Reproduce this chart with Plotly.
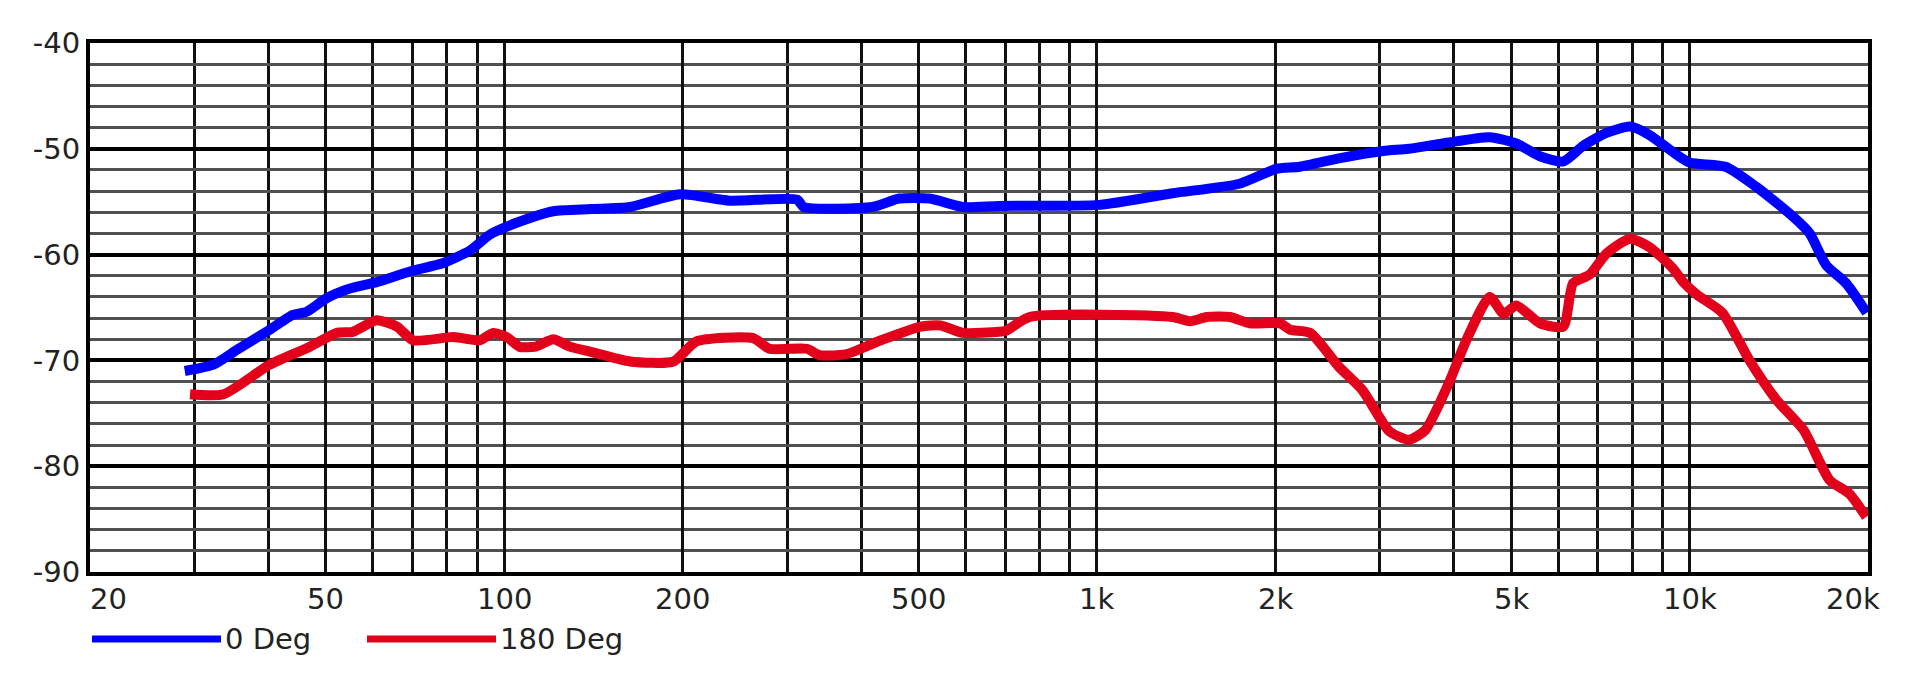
import math
import plotly.graph_objects as go

# ---- data ----
freq_0deg = [28.9, 32.3, 35.4, 39.7, 44.0, 46.4, 50.2, 54.9, 60.9, 69.3, 78.9, 87.6, 94.6,
             106, 121, 140, 163, 198, 240, 312, 320, 418, 464, 522, 594, 684, 1010, 1342,
             1740, 2006, 2200, 2560, 3040, 3360, 3920, 4600, 5100, 5590, 6120, 6620, 7240,
             7930, 8560, 9370, 10000, 11500, 12960, 14940, 15950, 17000, 18360, 19900]
db_0deg = [-71.0, -70.4, -69.0, -67.3, -65.7, -65.4, -64.1, -63.2, -62.6, -61.6, -60.8, -59.6, -58.1,
           -56.9, -55.9, -55.7, -55.5, -54.3, -54.9, -54.8, -55.5, -55.5, -54.7, -54.7, -55.5, -55.4,
           -55.3, -54.2, -53.3, -51.9, -51.7, -50.9, -50.2, -50.0, -49.4, -48.9, -49.5, -50.7, -51.2,
           -49.7, -48.5, -47.9, -48.7, -50.3, -51.3, -51.7, -53.6, -56.4, -58.0, -61.0, -62.7, -65.5]

freq_180deg = [29.5, 33.6, 40.2, 47.0, 52.2, 55.5, 60.9, 65.9, 70.2, 82.1, 91, 95.8, 101, 106, 113,
               121, 129, 140, 163, 193, 211, 263, 280, 324, 340, 378, 432, 504, 545, 594, 684, 702,
               770, 1342, 1436, 1532, 1676, 1812, 2038, 2118, 2290, 2560, 2804, 3114, 3360, 3580,
               3920, 4200, 4600, 4856, 5100, 5590, 6120, 6360, 6780, 7240, 7930, 8560, 9370, 9760,
               10300, 11360, 12620, 14000, 15580, 17220, 18600, 19870]
db_180deg = [-73.2, -73.2, -70.4, -68.7, -67.4, -67.3, -66.2, -66.8, -68.1, -67.8, -68.1, -67.4, -67.8,
             -68.7, -68.7, -68.0, -68.7, -69.2, -70.1, -70.1, -68.2, -67.9, -68.9, -68.9, -69.5, -69.4,
             -68.1, -66.8, -66.7, -67.4, -67.3, -67.2, -65.9, -65.9, -66.3, -65.9, -65.9, -66.5, -66.5,
             -67.1, -67.4, -70.6, -72.8, -76.7, -77.5, -76.6, -72.2, -68.1, -64.0, -65.6, -64.8, -66.5,
             -66.8, -62.7, -61.9, -59.9, -58.5, -59.3, -61.3, -62.6, -63.8, -65.5, -70.0, -73.7, -76.6,
             -81.3, -82.6, -84.8]

x_tick_vals = [20, 50, 100, 200, 500, 1000, 2000, 5000, 10000, 20000]
x_tick_text = ["20", "50", "100", "200", "500", "1k", "2k", "5k", "10k", "20k"]
x_minor_vals = [30, 40, 60, 70, 80, 90, 300, 400, 600, 700, 800, 900,
                3000, 4000, 6000, 7000, 8000, 9000]
y_tick_vals = [-90, -80, -70, -60, -50, -40]
y_tick_text = ["-90", "-80", "-70", "-60", "-50", "-40"]

series_names = ["0 Deg", "180 Deg"]
series_colors = ["#0000FF", "#E2001A"]

# ---- geometry (page has an 8px body margin) ----
page_off = 8
fig_w, fig_h = 1920 - 2 * page_off, 677 - 2 * page_off
plot_l, plot_r, plot_t, plot_b = 90 - page_off, 1868 - page_off, 43 - page_off, 572 - page_off
pw, ph = plot_r - plot_l, plot_b - plot_t

# ---- figure ----
fig = go.Figure()
fig.add_trace(go.Scatter(x=freq_0deg, y=db_0deg, mode="lines", name=series_names[0],
                         line=dict(color=series_colors[0], width=10, shape="spline", smoothing=0.6)))
fig.add_trace(go.Scatter(x=freq_180deg, y=db_180deg, mode="lines", name=series_names[1],
                         line=dict(color=series_colors[1], width=10, shape="spline", smoothing=0.6)))

font_family = "DejaVu Sans"
font_color = "#222222"

fig.update_xaxes(
    type="log", range=[math.log10(20), math.log10(20000)],
    tickvals=x_tick_vals, ticktext=x_tick_text, showticklabels=False,
    showgrid=True, gridcolor="#111111", gridwidth=2.5,
    minor=dict(tickvals=x_minor_vals, showgrid=True, gridcolor="#111111", gridwidth=2.5),
    showline=True, linecolor="black", linewidth=4, mirror=True,
    ticks="", zeroline=False,
)
fig.update_yaxes(
    range=[-90, -40], tickvals=y_tick_vals, ticktext=y_tick_text,
    showgrid=True, gridcolor="black", gridwidth=3.5,
    minor=dict(dtick=2, showgrid=True, gridcolor="#505050", gridwidth=2.5),
    showline=True, linecolor="black", linewidth=4, mirror=True,
    ticks="", ticklabelstandoff=0, zeroline=False,
    tickfont=dict(family=font_family, size=29, color=font_color),
)

# x tick labels placed on the log axis scale; end labels nudged inwards as in the reference
label_shift = {0: 18, len(x_tick_vals) - 1: -15}
for i, (v, t) in enumerate(zip(x_tick_vals, x_tick_text)):
    fig.add_annotation(xref="x", yref="paper", x=math.log10(v), y=0, yshift=-8,
                       text=t, showarrow=False, xanchor="center", yanchor="top",
                       xshift=label_shift.get(i, 0),
                       font=dict(family=font_family, size=29, color=font_color))

# ---- legend drawn below the plot (swatch lines + labels) ----
def px_x(X):
    return (X - page_off - plot_l) / pw

def px_y(Y):
    return (plot_b - (Y - page_off)) / ph

legend_y = 639
legend_items = [(92, 221, 223), (367, 496, 498)]
for (x0, x1, tx), name, color in zip(legend_items, series_names, series_colors):
    fig.add_shape(type="line", xref="paper", yref="paper",
                  x0=px_x(x0), x1=px_x(x1), y0=px_y(legend_y), y1=px_y(legend_y),
                  line=dict(color=color, width=7))
    fig.add_annotation(xref="paper", yref="paper", x=px_x(tx), y=px_y(legend_y),
                       text=name, showarrow=False, xanchor="left", yanchor="middle",
                       font=dict(family=font_family, size=29, color=font_color))

fig.update_layout(
    width=fig_w, height=fig_h,
    margin=dict(l=plot_l, r=fig_w - plot_r, t=plot_t, b=fig_h - plot_b),
    paper_bgcolor="white", plot_bgcolor="white",
    showlegend=False,
)

fig.write_html("out.html")
